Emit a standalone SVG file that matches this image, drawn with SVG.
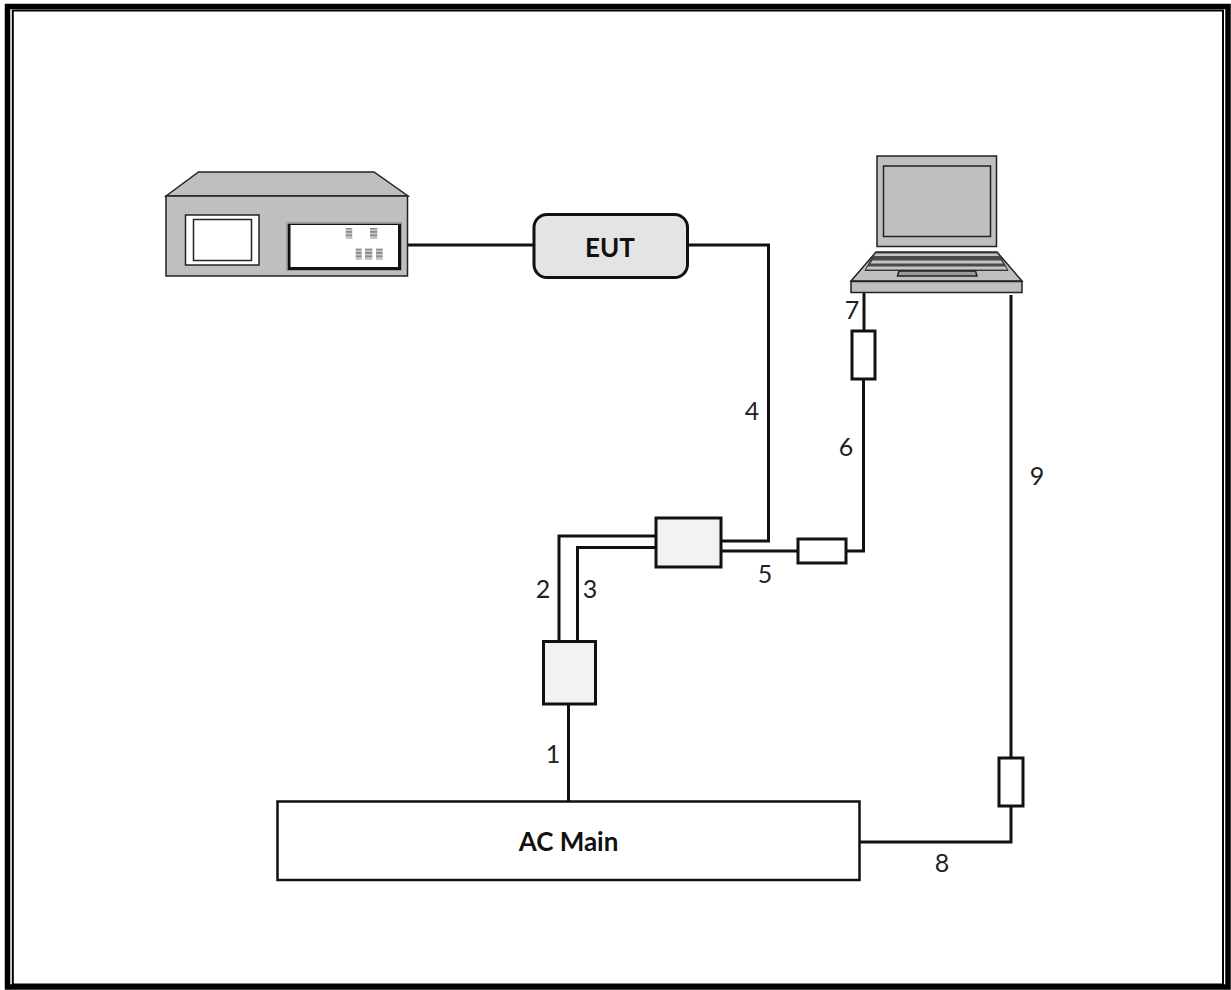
<svg xmlns="http://www.w3.org/2000/svg" width="1231" height="990" viewBox="0 0 1231 990">
<defs>
<pattern id="stripe" width="4" height="3.500" patternUnits="userSpaceOnUse">
<rect width="4" height="3.500" fill="#c4c4c4"/>
<rect width="4" height="1.700" fill="#8c8c8c"/>
</pattern>
</defs>
<style>
.w{fill:none;stroke:#111;stroke-width:3}
.g{fill:#bfbfbf;stroke:#222;stroke-width:1.5}
.t{font-family:Lato,"Liberation Sans",sans-serif;font-size:25px;fill:#222;text-anchor:middle}
.b{font-family:Lato,"Liberation Sans",sans-serif;font-size:26px;font-weight:700;fill:#111;text-anchor:middle}
.s{fill:url(#stripe)}
.o{stroke:#111;stroke-width:3}
</style>
<rect width="1231" height="990" fill="#fff"/>
<g id="frame" fill="none" stroke="#000">
<rect x="7.500" y="6.500" width="1220.500" height="980.500" stroke-width="5.500"/>
<rect x="12.800" y="10.500" width="1210.200" height="974" stroke-width="2"/>
</g>
<g id="connectors">
<path class="w" d="M408 245H534"/>
<path class="w" d="M688 245H768.500V541H721"/>
<path class="w" d="M721 551H798"/>
<path class="w" d="M846 551H863.500V380"/>
<path class="w" d="M864 331V293"/>
<path class="w" d="M656 536H559V641"/>
<path class="w" d="M656 547.500H577.500V641"/>
<path class="w" d="M568.500 704V801"/>
<path class="w" d="M860 842H1011V806"/>
<path class="w" d="M1011 758V295"/>
</g>
<g id="analyzer">
<path class="g" d="M166 196L198.500 172H374L408 196Z"/>
<rect class="g" x="166" y="196" width="241.500" height="80"/>
<rect x="185.500" y="215" width="73.500" height="50" fill="#fff" stroke="#222" stroke-width="1.500"/>
<rect x="193.500" y="219.500" width="58" height="41" fill="#fff" stroke="#222" stroke-width="1.500"/>
<rect x="286.500" y="222.500" width="115" height="48" fill="#fff" stroke="#999" stroke-width="1"/>
<path fill="#111" d="M287.500 223.500H401V270H287.500ZM290.500 225V267H398V225Z" fill-rule="evenodd"/>
<rect class="s" x="345.700" y="228" width="6.500" height="10.500"/>
<rect class="s" x="370" y="228" width="7.300" height="10.500"/>
<rect class="s" x="355.700" y="248.500" width="6" height="11"/>
<rect class="s" x="365" y="248.500" width="7.300" height="11"/>
<rect class="s" x="376" y="248.500" width="6.700" height="11"/>
</g>
<g id="eut">
<rect x="534" y="214.500" width="153.500" height="63" rx="13" fill="#e4e4e4" stroke="#111" stroke-width="3"/>
<text class="b" x="610" y="256.500">EUT</text>
</g>
<g id="laptop">
<rect class="g" x="877" y="156" width="119.500" height="90.500"/>
<rect class="g" x="883.500" y="166" width="107" height="70.500" stroke="#333" stroke-width="2"/>
<path class="g" d="M876 252H997L1022 281H851Z"/>
<path d="M875 252.500H998L1008 270.500H865Z" fill="#4a4a4a" stroke="#333" stroke-width="1"/>
<path d="M876 253.500H997L999 256H874ZM872.500 260.500H1001L1003 263.500H870.500ZM868 266.500H1005L1007 269.500H866Z" fill="#c4c4c4"/>
<path d="M899 271H975.500L977 276H897.500Z" fill="#999" stroke="#222" stroke-width="1.500"/>
<rect class="g" x="851" y="281.500" width="171" height="11"/>
</g>
<g id="filter-7"><rect class="o" x="852" y="331" width="23" height="48" fill="#fff"/></g>
<g id="filter-5"><rect class="o" x="798" y="539" width="48" height="24" fill="#fff"/></g>
<g id="filter-9"><rect class="o" x="999" y="758" width="24" height="48" fill="#fff"/></g>
<g id="box-top"><rect class="o" x="656" y="518" width="65" height="49" fill="#f2f2f2"/></g>
<g id="box-bottom"><rect class="o" x="543.500" y="641.500" width="52" height="62.500" fill="#f2f2f2"/></g>
<g id="ac-main">
<rect x="277.500" y="801.500" width="582" height="78.500" fill="#fff" stroke="#111" stroke-width="2.500"/>
<text class="b" x="568.500" y="851">AC Main</text>
</g>
<g id="labels">
<text class="t" x="553" y="763">1</text>
<text class="t" x="543" y="598">2</text>
<text class="t" x="590" y="598">3</text>
<text class="t" x="752" y="420">4</text>
<text class="t" x="765" y="583">5</text>
<text class="t" x="846" y="456">6</text>
<text class="t" x="852" y="319">7</text>
<text class="t" x="942" y="872">8</text>
<text class="t" x="1037" y="485">9</text>
</g>
</svg>
